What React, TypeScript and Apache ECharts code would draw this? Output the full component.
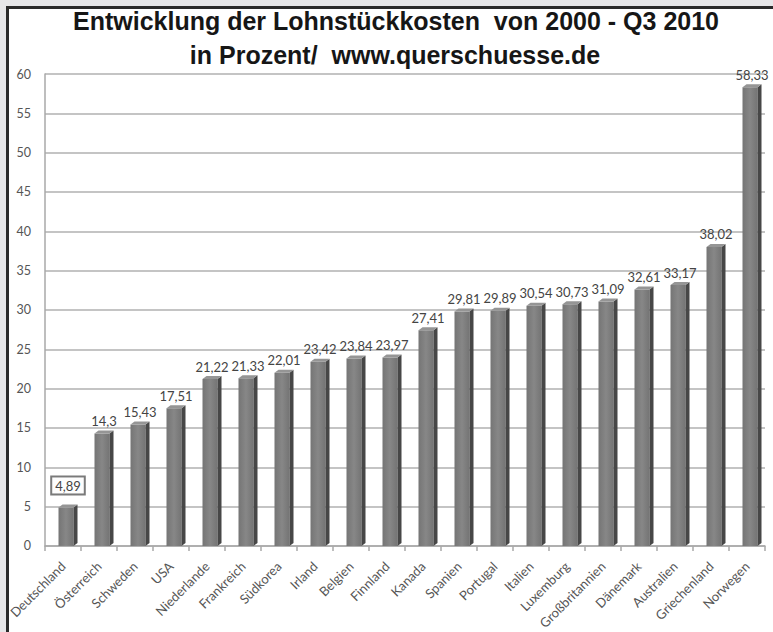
import React, { useEffect, useRef } from "react";
import * as echarts from "echarts";

const categories = [
  "Deutschland", "Österreich", "Schweden", "USA", "Niederlande", "Frankreich",
  "Südkorea", "Irland", "Belgien", "Finnland", "Kanada", "Spanien", "Portugal",
  "Italien", "Luxemburg", "Großbritannien", "Dänemark", "Australien",
  "Griechenland", "Norwegen",
];
const values = [
  4.89, 14.3, 15.43, 17.51, 21.22, 21.33, 22.01, 23.42, 23.84, 23.97, 27.41,
  29.81, 29.89, 30.54, 30.73, 31.09, 32.61, 33.17, 38.02, 58.33,
];
const titleLine1 = "Entwicklung der Lohnstückkosten\u00a0 von 2000 - Q3 2010";
const titleLine2 = "in Prozent/\u00a0 www.querschuesse.de";
const yMin = 0;
const yMax = 60;
const yInterval = 5;

const fmt = (v: number) => String(v).replace(".", ",");

export default function App() {
  const ref = useRef<HTMLDivElement>(null);
  useEffect(() => {
    if (!ref.current) return;
    const chart = echarts.init(ref.current, null, { renderer: "svg" });
    const labelFont = "Lato, 'Open Sans', sans-serif";
    chart.setOption({
      animation: false,
      backgroundColor: "transparent",
      grid: { left: 45, right: 8, top: 74, bottom: 85 },
      graphic: [
        {
          type: "text",
          x: 396,
          y: 21,
          style: {
            text: titleLine1,
            fontSize: 25,
            fontWeight: "bold",
            fontFamily: "'Liberation Sans', Arial, sans-serif",
            fill: "#161616",
            textAlign: "center",
            textVerticalAlign: "middle",
          },
        },
        {
          type: "text",
          x: 395,
          y: 55,
          style: {
            text: titleLine2,
            fontSize: 25,
            fontWeight: "bold",
            fontFamily: "'Liberation Sans', Arial, sans-serif",
            fill: "#161616",
            textAlign: "center",
            textVerticalAlign: "middle",
          },
        },
      ],
      xAxis: {
        type: "category",
        data: categories,
        boundaryGap: true,
        axisLine: { show: true, lineStyle: { color: "#a8a8a8", width: 1.5 } },
        axisTick: { show: true, length: 5, lineStyle: { color: "#a8a8a8", width: 1.5 } },
        axisLabel: {
          rotate: 45,
          interval: 0,
          margin: 18,
          color: "#555",
          fontSize: 13,
          fontFamily: labelFont,
        },
      },
      yAxis: {
        type: "value",
        min: yMin,
        max: yMax,
        interval: yInterval,
        axisLine: { show: true, lineStyle: { color: "#a8a8a8", width: 1.5 } },
        axisTick: { show: false },
        axisLabel: {
          color: "#555",
          fontSize: 12.5,
          margin: 14,
          fontFamily: labelFont,
        },
        splitLine: { show: true, lineStyle: { color: "#b0b0b0", width: 1.5 } },
      },
      series: [
        {
          type: "bar",
          data: values.map((v, i) =>
            i === 0
              ? {
                  value: v,
                  label: {
                    borderColor: "#7a7a7a",
                    borderWidth: 2,
                    backgroundColor: "#fdfdfd",
                    padding: [2, 3, 1, 3],
                    offset: [5, -10],
                  },
                }
              : v
          ),
          barWidth: 19,
          itemStyle: { color: "rgba(0,0,0,0)" },
          silent: true,
          z: 1,
          label: {
            show: true,
            position: "top",
            distance: 4,
            offset: [5, -2],
            color: "#444",
            fontSize: 13,
            fontFamily: labelFont,
            formatter: (p: any) => fmt(p.value),
          },
        },
        {
          type: "custom",
          z: 3,
          data: values.map((v, i) => [i, v]),
          renderItem: (params: any, api: any) => {
            const idx = api.value(0);
            const v = api.value(1);
            const top = api.coord([idx, v]);
            const base = api.coord([idx, 0]);
            const cx = top[0] + 5;
            const fw = 15;
            const sw = 4;
            const d = 3;
            const x0 = cx - (fw + sw) / 2;
            const x1 = x0 + fw;
            const x2 = x1 + sw;
            return {
              type: "group",
              children: [
                {
                  type: "rect",
                  shape: { x: x0, y: top[1], width: fw, height: base[1] - top[1] },
                  style: {
                    fill: new echarts.graphic.LinearGradient(0, 0, 1, 0, [
                      { offset: 0, color: "#757575" },
                      { offset: 0.5, color: "#878787" },
                      { offset: 1, color: "#747474" },
                    ]),
                  },
                },
                {
                  type: "polygon",
                  shape: {
                    points: [
                      [x1, top[1]],
                      [x2, top[1] - d],
                      [x2, base[1] - d],
                      [x1, base[1]],
                    ],
                  },
                  style: { fill: "#474747" },
                },
                {
                  type: "polygon",
                  shape: {
                    points: [
                      [x0, top[1]],
                      [x1, top[1]],
                      [x2, top[1] - d],
                      [x0 + sw, top[1] - d],
                    ],
                  },
                  style: { fill: "#959595" },
                },
              ],
            };
          },
        },
      ],
    });
    return () => chart.dispose();
  }, []);

  return (
    <div
      style={{
        position: "absolute",
        left: 0,
        top: 0,
        width: 773,
        height: 632,
        background: "#e6e6e8",
        overflow: "hidden",
      }}
    >
      <div
        style={{
          position: "absolute",
          left: 6,
          top: 6,
          width: 800,
          height: 700,
          border: "3px solid #2a2a2a",
          background: "#ffffff",
        }}
      />
      <div
        ref={ref}
        style={{ position: "absolute", left: 0, top: 0, width: 773, height: 632 }}
      />
    </div>
  );
}
